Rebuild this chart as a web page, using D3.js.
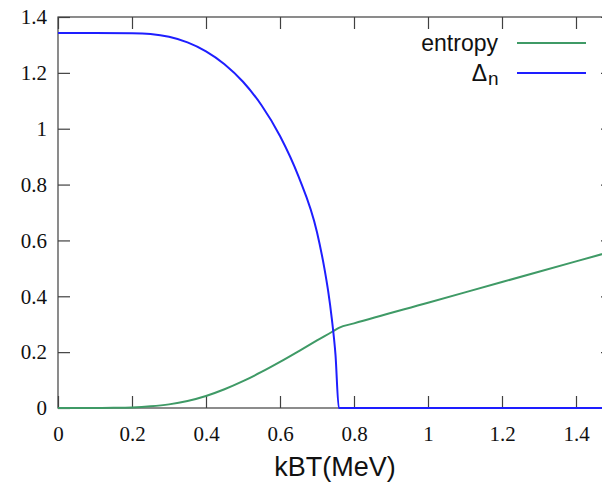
<!DOCTYPE html>
<html>
<head>
<meta charset="utf-8">
<script src="https://cdn.jsdelivr.net/npm/d3@7"></script>
<style>
  body { margin: 0; background: #fff; }
</style>
</head>
<body>
<div id="chart"></div>
<script>
// entropy (green)
const entropyT = [0, 0.1, 0.15, 0.2, 0.25, 0.3, 0.35, 0.4, 0.45, 0.5, 0.55, 0.6, 0.65, 0.7, 0.741, 0.759, 0.8, 1.0, 1.2, 1.4, 1.5];
const entropyS = [0, 0, 0.0005, 0.002, 0.006, 0.013, 0.025, 0.043, 0.067, 0.096, 0.129, 0.165, 0.203, 0.242, 0.273, 0.287, 0.303, 0.377, 0.451, 0.525, 0.562];

// pairing gap Delta_n (blue)
const gapT = [0, 0.1, 0.2, 0.25, 0.3, 0.35, 0.4, 0.45, 0.5, 0.55, 0.6, 0.65, 0.7, 0.72, 0.73, 0.74, 0.75, 0.759, 1.0, 1.5];
const gapD = [1.343, 1.343, 1.342, 1.339, 1.329, 1.309, 1.277, 1.231, 1.168, 1.084, 0.974, 0.829, 0.629, 0.50, 0.42, 0.32, 0.19, 0, 0, 0];

const xTicks = [0, 0.2, 0.4, 0.6, 0.8, 1, 1.2, 1.4];
const yTicks = [0, 0.2, 0.4, 0.6, 0.8, 1, 1.2, 1.4];

const width = 602, height = 489;
const svg = d3.select('#chart')
  .append('svg')
  .attr('width', width)
  .attr('height', height);

const x = d3.scaleLinear().domain([0, 1.5]).range([58, 613]);
const y = d3.scaleLinear().domain([0, 1.4]).range([408, 17]);

const axisColor = '#404040';
const tickFont = '"Liberation Serif", serif';

// border
svg.append('rect')
  .attr('x', x(0))
  .attr('y', y(1.4))
  .attr('width', x(1.5) - x(0))
  .attr('height', y(0) - y(1.4))
  .attr('fill', 'none')
  .attr('stroke', axisColor)
  .attr('stroke-width', 1.2);

function styleAxis(g, showLabels) {
  g.select('.domain').remove();
  g.selectAll('.tick line').attr('stroke', axisColor).attr('stroke-width', 1.2);
  if (!showLabels) g.selectAll('.tick text').remove();
  else g.selectAll('.tick text')
    .attr('fill', '#111')
    .style('font-family', tickFont)
    .style('font-size', '21px');
}

const fmt = d => d3.format('~g')(d);

svg.append('g')
  .attr('transform', `translate(0,${y(0)})`)
  .call(d3.axisBottom(x).tickValues(xTicks).tickFormat(fmt).tickSize(-12).tickPadding(18))
  .call(g => styleAxis(g, true));

svg.append('g')
  .attr('transform', `translate(0,${y(1.4)})`)
  .call(d3.axisTop(x).tickValues(xTicks).tickSize(-12))
  .call(g => styleAxis(g, false));

svg.append('g')
  .attr('transform', `translate(${x(0)},0)`)
  .call(d3.axisLeft(y).tickValues(yTicks).tickFormat(fmt).tickSize(-12).tickPadding(11))
  .call(g => styleAxis(g, true));

svg.append('g')
  .attr('transform', `translate(${x(1.5)},0)`)
  .call(d3.axisRight(y).tickValues(yTicks).tickSize(-12))
  .call(g => styleAxis(g, false));

const green = '#3f9a66';
const blue = '#1e1eff';

svg.append('clipPath').attr('id', 'plot-clip')
  .append('rect')
  .attr('x', x(0)).attr('y', y(1.4))
  .attr('width', x(1.5) - x(0)).attr('height', y(0) - y(1.4) + 2);

const line = d3.line()
  .x(d => x(d[0]))
  .y(d => y(d[1]))
  .curve(d3.curveMonotoneX);

svg.append('path')
  .datum(entropyT.map((t, i) => [t, entropyS[i]]))
  .attr('clip-path', 'url(#plot-clip)')
  .attr('fill', 'none')
  .attr('stroke', green)
  .attr('stroke-width', 2)
  .attr('d', line);

svg.append('path')
  .datum(gapT.map((t, i) => [t, gapD[i]]))
  .attr('clip-path', 'url(#plot-clip)')
  .attr('fill', 'none')
  .attr('stroke', blue)
  .attr('stroke-width', 2)
  .attr('d', line);

// legend
const legendFont = '"Liberation Sans", Arial, sans-serif';
const legend = [
  { label: 'entropy', color: green, y: 43 },
  { label: 'Δ', sub: 'n', color: blue, y: 73 }
];
legend.forEach(l => {
  svg.append('text')
    .attr('x', l.sub ? 487 : 498)
    .attr('y', l.y)
    .attr('dy', '0.35em')
    .attr('text-anchor', 'end')
    .attr('fill', '#111')
    .style('font-family', legendFont)
    .style('font-size', '23px')
    .text(l.label);
  if (l.sub) {
    svg.append('text')
      .attr('x', 488)
      .attr('y', l.y + 12)
      .attr('fill', '#111')
      .style('font-family', legendFont)
      .style('font-size', '19px')
      .text(l.sub);
  }
  svg.append('line')
    .attr('x1', 517).attr('x2', 586)
    .attr('y1', l.y).attr('y2', l.y)
    .attr('stroke', l.color)
    .attr('stroke-width', 2);
});

// x label
svg.append('text')
  .attr('x', 335)
  .attr('y', 476)
  .attr('text-anchor', 'middle')
  .attr('fill', '#111')
  .style('font-family', legendFont)
  .style('font-size', '27px')
  .text('kBT(MeV)');
</script>
</body>
</html>
